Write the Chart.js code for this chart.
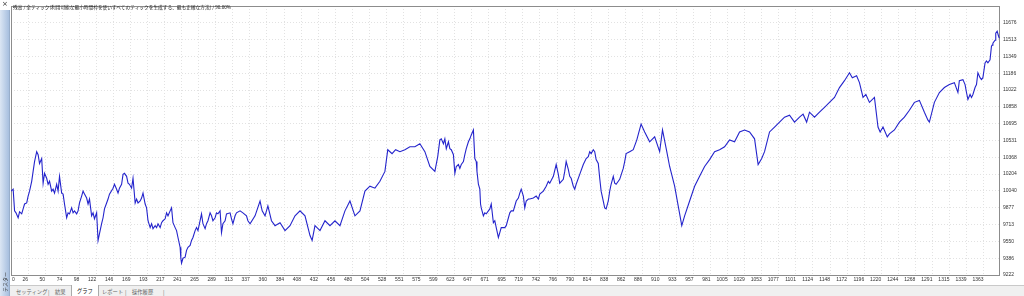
<!DOCTYPE html>
<html><head><meta charset="utf-8">
<script src="https://cdn.jsdelivr.net/npm/chart.js@4.4.0/dist/chart.umd.min.js"></script>
<style>
html,body{margin:0;padding:0;background:#fff;width:1024px;height:296px;overflow:hidden;}
#c{position:absolute;left:0;top:0;width:1024px;height:296px;}
#strip{position:absolute;left:0;top:10px;width:9px;height:286px;background:linear-gradient(to right,#dbe6f4,#a7bfdf);border-right:1px solid #98aecb;}
#close{position:absolute;left:1px;top:0px;width:8px;height:9px;font:7px "DejaVu Sans",sans-serif;color:#333;text-align:center;line-height:9px;}
#vt{position:absolute;left:0px;top:292px;transform:rotate(-90deg);transform-origin:0 0;font:5px "Noto Sans CJK JP",sans-serif;color:#333;white-space:nowrap;line-height:9px;}
#title{position:absolute;left:13px;top:4px;font:4.7px "Noto Sans CJK JP",sans-serif;color:#222;white-space:nowrap;}
#tabs{position:absolute;left:10px;top:285px;width:1014px;height:11px;background:#f0f0f0;border-top:1px solid #c9c9c9;font:5.3px "Noto Sans CJK JP",sans-serif;color:#666;}
#tabs span{position:absolute;top:2px;white-space:nowrap;}
#tabs .act{top:-1px;height:11px;background:#fff;border:1px solid #aaa;border-top:none;padding:0 5px;color:#222;line-height:13px;}
</style></head><body>
<canvas id="c" width="1024" height="296"></canvas>
<div id="strip"></div>
<div id="close">×</div>
<div id="vt">テスター</div>
<div id="title">残高 / 全ティック(利用可能な最小時間枠を使いすべてのティックを生成する、最も正確な方法) / 90.00%</div>
<div id="tabs">
<span style="left:6px">セッティング</span>
<span style="left:38px">|</span>
<span style="left:45px">結果</span>
<span class="act" style="left:61px">グラフ</span>
<span style="left:92px">レポート</span>
<span style="left:115px">|</span>
<span style="left:122px">操作履歴</span>
<span style="left:153px">|</span>
</div>
<script>
const trades = [
0,3,5,7,10,12,15,17,19,22,
24,26,29,31,33,36,38,40,43,45,
47,50,52,54,57,59,61,64,66,68,
71,73,75,78,80,82,85,87,89,92,
94,96,99,101,103,106,108,110,113,115,
117,120,122,124,127,129,131,134,136,138,
143,145,148,150,152,155,157,159,162,164,
166,169,171,174,176,178,181,183,185,188,
190,192,195,197,199,202,204,206,209,211,
213,216,218,220,223,225,227,230,232,234,
237,238,239,241,244,246,248,251,253,255,
258,260,262,265,267,269,272,274,276,279,
281,283,286,288,290,293,295,297,300,302,
307,309,311,314,316,321,325,330,332,335,
342,349,352,356,360,365,370,377,384,391,
398,405,412,419,422,426,433,440,447,454,
461,468,475,482,489,496,503,510,517,524,
528,534,539,545,552,559,566,573,580,587,
594,598,601,603,606,608,610,613,615,617,
620,622,624,627,629,631,634,636,638,641,
643,645,648,650,652,653,655,657,658,659,
662,664,666,669,671,673,676,678,680,683,
685,687,692,694,699,701,704,708,711,713,
715,718,720,722,725,727,732,736,739,741,
746,750,753,755,760,764,767,769,774,776,
778,781,783,785,788,790,792,797,802,806,
809,811,813,816,818,820,823,825,827,830,
832,834,837,839,841,844,846,848,853,858,
860,862,867,872,877,880,883,888,895,902,
909,913,919,923,930,935,940,944,951,958,
965,972,979,986,993,1000,1007,1014,1021,1028,
1035,1042,1047,1052,1056,1063,1070,1077,1084,1091,
1098,1105,1110,1115,1119,1126,1133,1140,1147,1154,
1161,1168,1175,1179,1185,1189,1194,1198,1203,1210,
1215,1218,1222,1228,1231,1238,1245,1252,1259,1266,
1273,1280,1285,1287,1294,1301,1308,1315,1322,1327,
1329,1334,1337,1339,1341,1344,1346,1348,1351,1353,
1355,1358,1360,1362,1365,1367,1369,1372,1374,1375,
1376,1379,1380,1382,1384,1385
];
const balance = [
10038,10057,9846,9827,9779,9836,9817,9865,9913,9923,
9990,10038,10134,10230,10326,10422,10393,10307,10355,10115,
10211,10163,10105,10134,10038,10057,10019,10105,10038,10182,
10019,10009,9913,9779,9827,9817,9875,9827,9846,9817,
9846,9923,9990,10038,10009,9971,9913,9961,9798,9827,
9769,9827,9558,9625,9721,9779,9865,9923,9961,10009,
10067,10105,10057,10019,10067,10105,10201,10211,10182,10115,
10105,10067,10163,9923,9961,9923,9942,9971,10019,9913,
9875,9750,9683,9721,9673,9702,9683,9721,9683,9731,
9750,9769,9827,9798,9846,9875,9731,9683,9654,9587,
9491,9385,9337,9385,9395,9462,9491,9510,9558,9587,
9654,9683,9654,9750,9817,9721,9673,9721,9750,9827,
9798,9750,9779,9827,9817,9846,9635,9721,9750,9817,
9827,9769,9721,9798,9827,9846,9827,9798,9750,9721,
9798,9942,9846,9798,9894,9750,9702,9731,9654,9702,
9798,9846,9798,9606,9558,9702,9654,9750,9702,9750,
9702,9846,9942,9798,9846,10038,10086,10067,10134,10230,
10441,10403,10441,10422,10441,10470,10470,10499,10422,10278,
10230,10374,10537,10547,10499,10547,10451,10518,10451,10441,
10393,10211,10278,10297,10259,10297,10326,10393,10451,10518,
10547,10585,10633,10355,10326,10230,10105,10057,9913,9875,
9798,9827,9817,9846,9865,9913,9731,9750,9683,9587,
9635,9683,9683,9702,9827,9846,9846,9942,9971,10019,
10057,9990,9875,9942,9961,9961,9971,9990,9961,10009,
10038,10086,10134,10115,10182,10297,10201,10115,10153,10230,
10326,10249,10182,10163,10086,10057,10105,10201,10297,10355,
10374,10422,10403,10441,10422,10345,10307,10163,10038,9942,
9875,9865,9942,10038,10105,10182,10115,10105,10153,10259,
10326,10403,10422,10441,10537,10614,10691,10614,10518,10566,
10422,10633,10422,10278,10086,9894,9702,9798,9942,10086,
10182,10278,10345,10422,10441,10470,10537,10518,10614,10633,
10614,10547,10297,10355,10422,10614,10662,10710,10758,10777,
10710,10758,10787,10710,10806,10758,10806,10854,10902,10950,
11046,11113,11190,11142,11161,11094,10950,10979,10902,10950,
10662,10614,10662,10566,10595,10633,10710,10758,10825,10902,
10921,10806,10729,10710,10902,10998,11046,11075,11094,10998,
11113,11123,11075,10998,10931,10979,10950,10979,11046,11075,
11190,11142,11123,11142,11286,11305,11286,11315,11449,11459,
11478,11507,11574,11593,11545,11526
];
const xTickLabels = ['0','26','50','74','98','122','146','169','193','217','241','265','289','313','337','360','384','408','432','456','480','504','528','551','575','599','623','647','671','695','719','742','766','790','814','838','862','886','910','933','957','981','1005','1029','1053','1077','1101','1124','1148','1172','1196','1220','1244','1268','1291','1315','1339','1363'];
const yTicks = [9222,9386,9550,9713,9877,10040,10204,10368,10531,10695,10858,11022,11186,11349,11513,11676];

const xStep = 1363 / (xTickLabels.length - 1);
const xMax = xStep * 57.96;
const yStep = (yTicks[yTicks.length-1] - yTicks[0]) / (yTicks.length - 1);
const yMax = yTicks[0] + yStep * 16;

const frame = {
  id: 'frame',
  beforeDatasetsDraw(chart) {
    const {ctx, chartArea: a} = chart;
    ctx.save();
    ctx.strokeStyle = '#8c8c8c';
    ctx.lineWidth = 1;
    ctx.strokeRect(a.left + 0.5, a.top + 0.5, a.right - a.left - 1, a.bottom - a.top);
    ctx.fillStyle = '#333';
    ctx.font = '5px "Liberation Sans", sans-serif';
    ctx.textAlign = 'left';
    ctx.textBaseline = 'middle';
    ctx.fillText(xTickLabels[0], a.left + 1, a.bottom + 4.5);
    ctx.restore();
  }
};

new Chart(document.getElementById('c'), {
  type: 'line',
  data: {
    datasets: [{
      data: trades.map((t, i) => ({x: t, y: balance[i]})),
      borderColor: '#2424cc',
      borderWidth: 1.1,
      pointRadius: 0,
      tension: 0,
      fill: false
    }]
  },
  options: {
    responsive: false,
    animation: false,
    layout: {padding: {left: 11, top: 3, right: 0, bottom: 0}},
    plugins: {legend: {display: false}, tooltip: {enabled: false}},
    scales: {
      x: {
        type: 'linear', min: 0, max: xMax,
        afterBuildTicks: s => { s.ticks = xTickLabels.map((l, i) => ({value: i * xStep})); },
        afterFit: s => { s.height = 21; },
        grid: {color: '#e2e2e2', drawTicks: false, lineWidth: 1},
        border: {display: false, dash: [1, 2]},
        ticks: {
          autoSkip: false, maxRotation: 0, minRotation: 0, align: 'end', padding: 2,
          color: '#333', font: {family: '"Liberation Sans", sans-serif', size: 5},
          callback: (v, i) => i === 0 ? '' : xTickLabels[i]
        }
      },
      y: {
        position: 'right', min: yTicks[0], max: yMax,
        afterBuildTicks: s => { s.ticks = yTicks.map(v => ({value: v})); },
        afterFit: s => { s.width = 24; },
        grid: {color: '#e2e2e2', drawTicks: false, lineWidth: 1},
        border: {display: false, dash: [1, 2]},
        ticks: {
          padding: 3, color: '#333', font: {family: '"Liberation Sans", sans-serif', size: 5},
          callback: (v, i) => String(yTicks[i])
        }
      }
    }
  },
  plugins: [frame]
});
</script>
</body></html>
